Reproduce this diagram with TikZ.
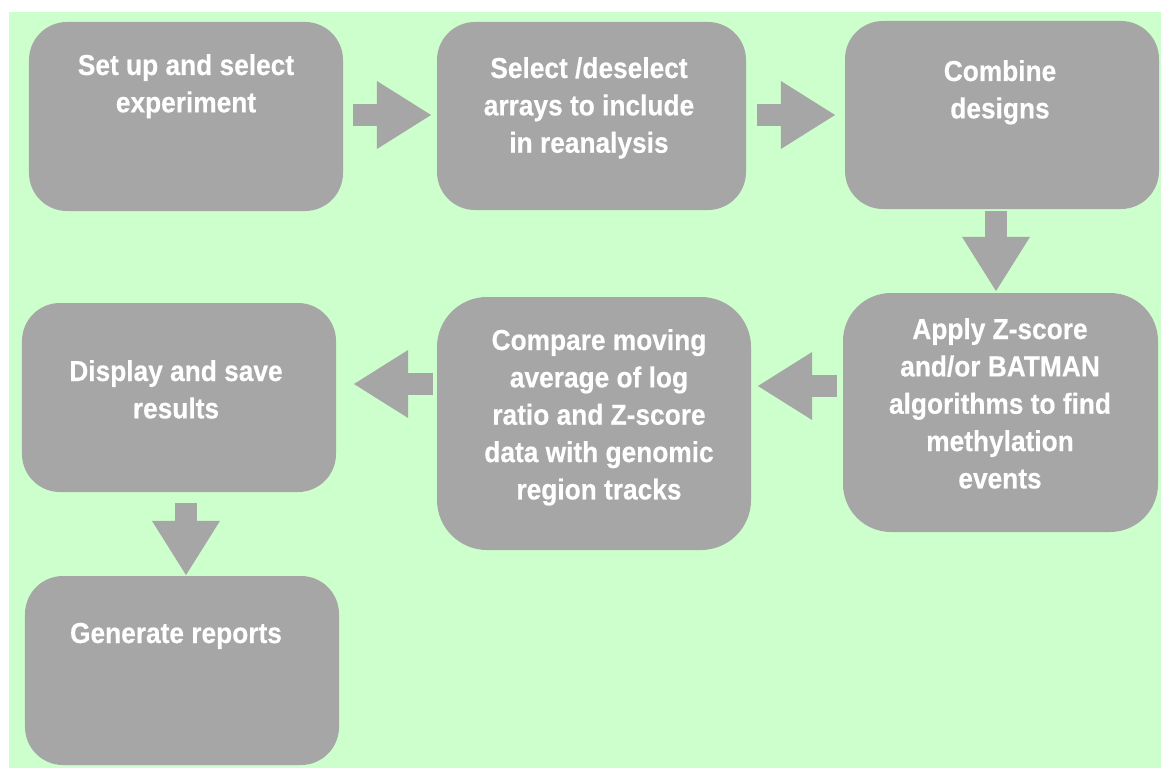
\documentclass[tikz,border=0pt]{standalone}
\usepackage{fontspec}
\setmainfont{Liberation Sans}[FakeStretch=0.91, BoldFeatures={FakeBold=0.4}]
\usetikzlibrary{arrows.meta}
\definecolor{bggreen}{HTML}{CCFFCC}
\definecolor{boxgray}{HTML}{A6A6A6}
\newcommand\mylines[1]{\begin{tabular}[t]{@{}c@{}}#1\end{tabular}}
\tikzset{
  stepbox/.style={fill=boxgray, draw=none, inner sep=0pt, shape=rectangle},
  steptext/.style={text=white, inner sep=0pt, anchor=base, font=\fontsize{29}{37.5}\selectfont\bfseries},
  blockarr/.style={draw=boxgray, line width=22bp, -{Triangle[length=55bp,width=64bp,fill=boxgray]}}
}
\begin{document}
\begin{tikzpicture}[x=1bp,y=-1bp]
\useasboundingbox (0,0) rectangle (1161,768);
\fill[white] (0,0) rectangle (1161,768);
\fill[bggreen] (9,12) rectangle (1161,768);

\node[stepbox, minimum width=314bp, minimum height=189bp, rounded corners=38bp] (b1) at (186,116.5) {};
\node[stepbox, minimum width=309bp, minimum height=188bp, rounded corners=38bp] (b2) at (591.5,116) {};
\node[stepbox, minimum width=314bp, minimum height=188bp, rounded corners=38bp] (b3) at (1002,115) {};
\node[stepbox, minimum width=315bp, minimum height=239bp, rounded corners=48bp] (b4) at (1000.5,412.5) {};
\node[stepbox, minimum width=314bp, minimum height=253bp, rounded corners=50bp] (b5) at (594,423.5) {};
\node[stepbox, minimum width=314bp, minimum height=189bp, rounded corners=38bp] (b6) at (179,397.5) {};
\node[stepbox, minimum width=314bp, minimum height=189bp, rounded corners=38bp] (b7) at (182,670.5) {};

\node[steptext] (t1) at (186,75) {\mylines{Set up and select\\experiment}};
\node[steptext] (t2) at (589,78) {\mylines{Select /deselect\\arrays to include\\in reanalysis}};
\node[steptext] (t3) at (1000,81) {\mylines{Combine\\designs}};
\node[steptext] (t4) at (1000,339) {\mylines{Apply Z-score\\and/or BATMAN\\algorithms to find\\methylation\\events}};
\node[steptext] (t5) at (599,350) {\mylines{Compare moving\\average of log\\ratio and Z-score\\data with genomic\\region tracks}};
\node[steptext] (t6) at (176,381) {\mylines{Display and save\\results}};
\node[steptext] (t7) at (176,643) {\mylines{Generate reports}};

\draw[blockarr, shorten <=10bp, shorten >=5bp] (b1.east |- 0,115) -- (b2.west |- 0,115);
\draw[blockarr, shorten <=11bp, shorten >=9bp] (b2.east |- 0,115) -- (b3.west |- 0,115);
\draw[blockarr, shorten <=2bp, shorten >=1bp] (b3.south -| 996,0) -- (b4.north -| 996,0);
\draw[blockarr, shorten <=6bp, shorten >=6bp] (b4.west |- 0,386) -- (b5.east |- 0,386);
\draw[blockarr, shorten <=4bp, shorten >=17bp] (b5.west |- 0,384) -- (b6.east |- 0,384);
\draw[blockarr, shorten <=11bp, shorten >=0bp] (b6.south -| 186,0) -- (b7.north -| 186,0);
\end{tikzpicture}
\end{document}
